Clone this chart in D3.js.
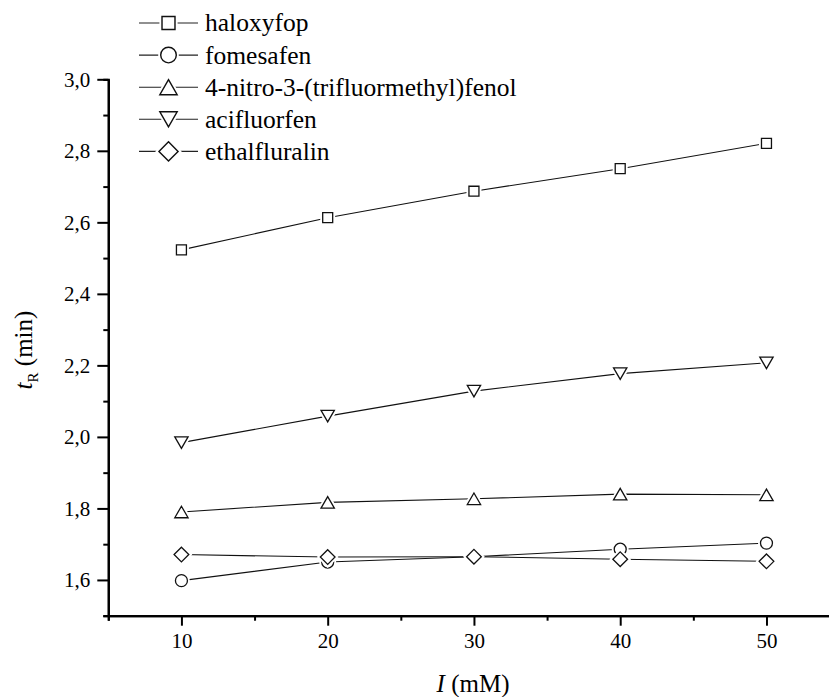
<!DOCTYPE html>
<html lang="en">
<head>
    <meta charset="UTF-8">
    <title>Retention time vs ionic strength</title>
    <script src="https://d3js.org/d3.v7.min.js"></script>
    <style>
        body { margin: 0; background: #fff; }
    </style>
</head>
<body>
<div id="chart"></div>
<script>
    // data
    const ionicStrength = [10, 20, 30, 40, 50];
    const seriesNames = ["haloxyfop", "fomesafen", "4-nitro-3-(trifluormethyl)fenol", "acifluorfen", "ethalfluralin"];
    const haloxyfop = [2.523, 2.613, 2.687, 2.750, 2.821];
    const fomesafen = [1.598, 1.650, 1.665, 1.686, 1.703];
    const nitroFenol = [1.790, 1.817, 1.827, 1.840, 1.838];
    const acifluorfen = [1.984, 2.058, 2.128, 2.177, 2.207];
    const ethalfluralin = [1.671, 1.664, 1.665, 1.658, 1.652];
    const yMajorTicks = [1.6, 1.8, 2.0, 2.2, 2.4, 2.6, 2.8, 3.0];
    const yMinorTicks = [1.5, 1.7, 1.9, 2.1, 2.3, 2.5, 2.7, 2.9];
    const xMajorTicks = [10, 20, 30, 40, 50];
    const xMinorTicks = [5, 15, 25, 35, 45, 55];

    const width = 829;
    const height = 697;
    const serif = "'Liberation Serif', 'Times New Roman', Times, serif";

    const x = d3.scaleLinear().domain([5, 55]).range([108.3, 839.6]);
    const y = d3.scaleLinear().domain([1.5, 3.0]).range([615.7, 79.3]);

    // comma as decimal separator
    const locale = d3.formatLocale({ decimal: ",", thousands: ".", grouping: [3], currency: ["", ""] });
    const fmt = locale.format(".1f");

    const svg = d3.select("#chart").append("svg")
        .attr("width", width)
        .attr("height", height)
        .style("font-family", serif);

    // marker shapes: symbol type, size, rotation
    const shapes = [
        { type: d3.symbolSquare2, size: 127, rot: 0 },
        { type: d3.symbolCircle, size: 113, rot: 0 },
        { type: d3.symbolTriangle2, size: 127, rot: 0 },
        { type: d3.symbolTriangle2, size: 127, rot: 180 },
        { type: d3.symbolDiamond2, size: 138, rot: 0 }
    ];
    const values = [haloxyfop, fomesafen, nitroFenol, acifluorfen, ethalfluralin];

    function markerTransform(s, cx, cy, k) {
        // centre triangles on their bounding box
        let dy = 0;
        if (s.type === d3.symbolTriangle2) {
            const r = Math.sqrt(s.size) * 0.6824 * k;
            dy = s.rot === 180 ? -0.25 * r : 0.25 * r;
        }
        return `translate(${cx},${cy + dy}) rotate(${s.rot}) scale(${k})`;
    }

    // axes
    const yAxisMinor = d3.axisLeft(y).tickValues(yMinorTicks).tickSize(5).tickFormat("");
    const yAxisMajor = d3.axisLeft(y).tickValues(yMajorTicks).tickSize(11).tickSizeOuter(0).tickPadding(7).tickFormat(fmt);
    const xAxisMinor = d3.axisBottom(x).tickValues(xMinorTicks).tickSize(5).tickFormat("");
    const xAxisMajor = d3.axisBottom(x).tickValues(xMajorTicks).tickSize(10).tickSizeOuter(0).tickPadding(7).tickFormat(d3.format("d"));

    const gy = svg.append("g").attr("transform", "translate(108.3,0)");
    gy.append("g").call(yAxisMinor);
    gy.append("g").call(yAxisMajor);
    const gx = svg.append("g").attr("transform", "translate(0,615.7)");
    gx.append("g").call(xAxisMinor);
    gx.append("g").call(xAxisMajor);

    svg.selectAll("g").attr("font-family", serif);
    svg.selectAll(".domain").attr("stroke", "#000").attr("stroke-width", 2.2);
    svg.selectAll(".tick line").attr("stroke", "#000").attr("stroke-width", 2);
    svg.selectAll(".tick text").attr("font-size", 21).style("font-family", serif);

    // axis titles
    svg.append("text")
        .attr("x", 473)
        .attr("y", 692)
        .attr("text-anchor", "middle")
        .attr("font-size", 25)
        .style("font-family", serif)
        .call(t => {
            t.append("tspan").attr("font-style", "italic").text("I");
            t.append("tspan").text(" (mM)");
        });

    svg.append("text")
        .attr("transform", "translate(32,350) rotate(-90)")
        .attr("text-anchor", "middle")
        .attr("font-size", 25)
        .style("font-family", serif)
        .call(t => {
            t.append("tspan").attr("font-style", "italic").text("t");
            t.append("tspan").attr("font-size", 15).attr("dy", 6).text("R");
            t.append("tspan").attr("dy", -6).text(" (min)");
        });

    const line = d3.line()
        .x((d, i) => x(ionicStrength[i]))
        .y(d => y(d));

    const plot = svg.append("g");

    values.forEach((vals, s) => {
        const g = plot.append("g");
        g.append("path")
            .datum(vals)
            .attr("fill", "none")
            .attr("stroke", "#111")
            .attr("stroke-width", 1.1)
            .attr("d", line);

        const sym = d3.symbol().type(shapes[s].type).size(shapes[s].size);
        // white halo leaves a small gap between line and marker
        g.selectAll(".halo")
            .data(vals)
            .join("path")
            .attr("class", "halo")
            .attr("d", sym)
            .attr("transform", (d, i) => markerTransform(shapes[s], x(ionicStrength[i]), y(d), 1))
            .attr("fill", "#fff")
            .attr("stroke", "#fff")
            .attr("stroke-width", 5);
        g.selectAll(".mark")
            .data(vals)
            .join("path")
            .attr("class", "mark")
            .attr("d", sym)
            .attr("transform", (d, i) => markerTransform(shapes[s], x(ionicStrength[i]), y(d), 1))
            .attr("fill", "#fff")
            .attr("stroke", "#111")
            .attr("stroke-width", 1.3);
    });

    // legend
    const legend = svg.append("g");
    seriesNames.forEach((name, i) => {
        const ly = 23 + i * 32.1;
        const row = legend.append("g");
        row.append("line")
            .attr("x1", 139).attr("x2", 198)
            .attr("y1", ly).attr("y2", ly)
            .attr("stroke", "#222").attr("stroke-width", 1.1);
        const sym = d3.symbol().type(shapes[i].type).size(shapes[i].size);
        row.append("path")
            .attr("d", sym)
            .attr("transform", markerTransform(shapes[i], 168.5, ly, 1.3))
            .attr("fill", "#fff").attr("stroke", "#fff").attr("stroke-width", 4);
        row.append("path")
            .attr("d", sym)
            .attr("transform", markerTransform(shapes[i], 168.5, ly, 1.3))
            .attr("fill", "#fff").attr("stroke", "#111").attr("stroke-width", 1.1);
        row.append("text")
            .attr("x", 205)
            .attr("y", ly)
            .attr("dy", "0.33em")
            .attr("font-size", 25.5)
            .style("font-family", serif)
            .text(name);
    });
</script>
</body>
</html>
